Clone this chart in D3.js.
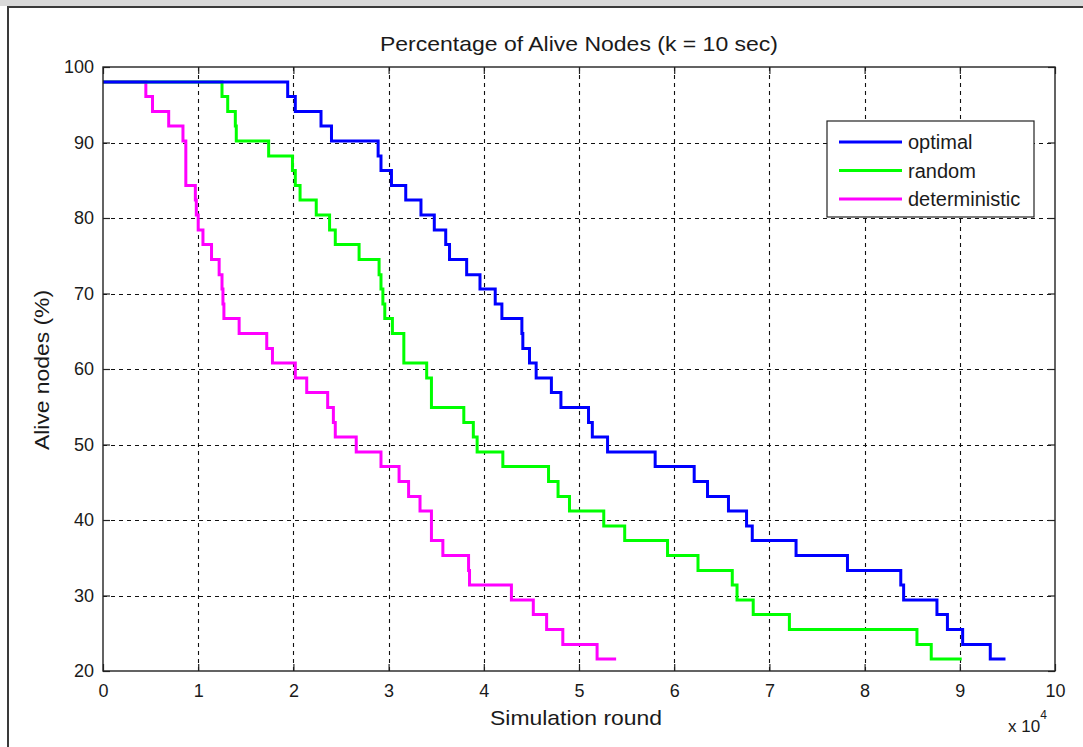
<!DOCTYPE html>
<html>
<head>
<meta charset="utf-8">
<script src="https://cdn.jsdelivr.net/npm/d3@7"></script>
<style>
  html, body { margin: 0; padding: 0; background: #ffffff; }
  svg { display: block; }
  text { font-family: "Liberation Sans", Arial, sans-serif; fill: #1a1a1a; }
</style>
</head>
<body>
<script>
// ---- data (x in units of 10^4 rounds, y = alive nodes %) ----
const xTicks = [0, 1, 2, 3, 4, 5, 6, 7, 8, 9, 10];
const yTicks = [20, 30, 40, 50, 60, 70, 80, 90, 100];
const seriesNames = ["optimal", "random", "deterministic"];

const optimalRounds = [0, 1.94, 2.02, 2.29, 2.40, 2.89, 2.92, 3.03, 3.18, 3.34, 3.48, 3.60, 3.64, 3.82, 3.96, 4.12, 4.19, 4.40, 4.41, 4.48, 4.55, 4.71, 4.81, 5.10, 5.14, 5.30, 5.80, 6.21, 6.35, 6.57, 6.76, 6.82, 7.28, 7.82, 8.38, 8.41, 8.76, 8.87, 9.03, 9.32, 9.48];
const optimalAlive  = [98.0, 96.1, 94.1, 92.2, 90.2, 88.2, 86.3, 84.3, 82.4, 80.4, 78.4, 76.5, 74.5, 72.5, 70.6, 68.6, 66.7, 64.7, 62.7, 60.8, 58.8, 56.9, 54.9, 52.9, 51.0, 49.0, 47.1, 45.1, 43.1, 41.2, 39.2, 37.3, 35.3, 33.3, 31.4, 29.4, 27.5, 25.5, 23.5, 21.6, 21.6];

const randomRounds = [0, 1.25, 1.31, 1.39, 1.40, 1.74, 1.99, 2.02, 2.07, 2.24, 2.38, 2.44, 2.69, 2.90, 2.92, 2.94, 2.96, 3.04, 3.16, 3.40, 3.45, 3.79, 3.89, 3.93, 4.20, 4.68, 4.78, 4.90, 5.26, 5.48, 5.93, 6.25, 6.61, 6.66, 6.83, 7.21, 8.55, 8.70, 9.02];
const randomAlive  = [98.0, 96.1, 94.1, 92.2, 90.2, 88.2, 86.3, 84.3, 82.4, 80.4, 78.4, 76.5, 74.5, 72.5, 70.6, 68.6, 66.7, 64.7, 60.8, 58.8, 54.9, 52.9, 51.0, 49.0, 47.1, 45.1, 43.1, 41.2, 39.2, 37.3, 35.3, 33.3, 31.4, 29.4, 27.5, 25.5, 23.5, 21.6, 21.6];

const deterministicRounds = [0, 0.45, 0.52, 0.69, 0.84, 0.87, 0.97, 0.98, 1.00, 1.05, 1.14, 1.22, 1.25, 1.26, 1.27, 1.43, 1.72, 1.78, 2.02, 2.14, 2.36, 2.42, 2.44, 2.66, 2.92, 3.11, 3.21, 3.33, 3.45, 3.57, 3.84, 3.85, 4.29, 4.52, 4.66, 4.83, 5.19, 5.39];
const deterministicAlive  = [98.0, 96.1, 94.1, 92.2, 90.2, 84.3, 82.4, 80.4, 78.4, 76.5, 74.5, 72.5, 70.6, 68.6, 66.7, 64.7, 62.7, 60.8, 58.8, 56.9, 54.9, 52.9, 51.0, 49.0, 47.1, 45.1, 43.1, 41.2, 37.3, 35.3, 33.3, 31.4, 29.4, 27.5, 25.5, 23.5, 21.6, 21.6];

const colors = ["#0000ff", "#00ff00", "#ff00ff"];

// ---- layout ----
const W = 1083, H = 747;
const M = { left: 103, right: 1055, top: 67, bottom: 671 };
const FONT = "'Liberation Sans', Arial, sans-serif";

const svg = d3.select("body").append("svg").attr("width", W).attr("height", H);

// figure frame
svg.append("rect").attr("x", 0).attr("y", 0).attr("width", W).attr("height", 6).attr("fill", "#d9d9d9");
svg.append("line").attr("x1", 7).attr("x2", W).attr("y1", 7).attr("y2", 7).attr("stroke", "#3a3a3a").attr("stroke-width", 2);
svg.append("line").attr("x1", 8).attr("x2", 8).attr("y1", 6).attr("y2", H).attr("stroke", "#3a3a3a").attr("stroke-width", 2);

const x = d3.scaleLinear().domain([0, 10]).range([M.left, M.right]);
const y = d3.scaleLinear().domain([20, 100]).range([M.bottom, M.top]);

// grid
const grid = svg.append("g").attr("stroke", "#111").attr("stroke-width", 1.1).attr("stroke-dasharray", "4,4");
grid.selectAll(".gx").data(xTicks.slice(1, -1)).join("line")
  .attr("x1", d => Math.round(x(d)) + 0.5).attr("x2", d => Math.round(x(d)) + 0.5)
  .attr("y1", M.top).attr("y2", M.bottom);
grid.selectAll(".gy").data(yTicks.slice(1, -1)).join("line")
  .attr("y1", d => Math.round(y(d)) + 0.5).attr("y2", d => Math.round(y(d)) + 0.5)
  .attr("x1", M.left).attr("x2", M.right);

// axes (MATLAB style: inward ticks on all sides)
const tickLen = 7;
const fmt = d3.format("d");
const axB = svg.append("g").attr("transform", `translate(0,${M.bottom})`)
  .call(d3.axisBottom(x).tickValues(xTicks).tickFormat(fmt).tickSizeInner(-tickLen).tickSizeOuter(0).tickPadding(13));
const axT = svg.append("g").attr("transform", `translate(0,${M.top})`)
  .call(d3.axisTop(x).tickValues(xTicks).tickFormat("").tickSizeInner(-tickLen).tickSizeOuter(0));
const axL = svg.append("g").attr("transform", `translate(${M.left},0)`)
  .call(d3.axisLeft(y).tickValues(yTicks).tickFormat(fmt).tickSizeInner(-tickLen).tickSizeOuter(0).tickPadding(9));
const axR = svg.append("g").attr("transform", `translate(${M.right},0)`)
  .call(d3.axisRight(y).tickValues(yTicks).tickFormat("").tickSizeInner(-tickLen).tickSizeOuter(0));
[axB, axT, axL, axR].forEach(a => {
  a.select(".domain").remove();
  a.selectAll(".tick line").attr("stroke", "#222").attr("stroke-width", 1.2);
  a.selectAll("text").attr("font-size", 18).attr("fill", "#1a1a1a").attr("font-family", FONT);
});

// series (optimal drawn last, on top)
const line = d3.line().x(d => x(d[0])).y(d => y(d[1])).curve(d3.curveStepAfter);
const series = [
  d3.zip(optimalRounds, optimalAlive),
  d3.zip(randomRounds, randomAlive),
  d3.zip(deterministicRounds, deterministicAlive)
];
const plot = svg.append("g");
[2, 1, 0].forEach(i => {
  plot.append("path").datum(series[i]).attr("d", line)
    .attr("fill", "none").attr("stroke", colors[i]).attr("stroke-width", 3)
    .attr("stroke-linejoin", "miter").attr("stroke-linecap", "butt");
});

// axes box
svg.append("rect").attr("x", M.left).attr("y", M.top)
  .attr("width", M.right - M.left).attr("height", M.bottom - M.top)
  .attr("fill", "none").attr("stroke", "#222").attr("stroke-width", 1.4);

// title and labels
svg.append("text").attr("x", (M.left + M.right) / 2).attr("y", 51)
  .attr("text-anchor", "middle").attr("font-size", 21)
  .attr("textLength", 398).attr("lengthAdjust", "spacingAndGlyphs")
  .text("Percentage of Alive Nodes (k = 10 sec)");
svg.append("text").attr("x", 576).attr("y", 725)
  .attr("text-anchor", "middle").attr("font-size", 21)
  .attr("textLength", 172).attr("lengthAdjust", "spacingAndGlyphs")
  .text("Simulation round");
svg.append("text").attr("transform", "translate(49,370) rotate(-90)")
  .attr("text-anchor", "middle").attr("font-size", 21)
  .attr("textLength", 160).attr("lengthAdjust", "spacingAndGlyphs")
  .text("Alive nodes (%)");
const mult = svg.append("text").attr("x", 1008).attr("y", 732).attr("font-size", 17);
mult.append("tspan").text("x 10");
mult.append("tspan").attr("dy", -13).attr("font-size", 12).text("4");

// legend
const lg = svg.append("g").attr("transform", "translate(827,121)");
lg.append("rect").attr("width", 207).attr("height", 96).attr("fill", "#fff").attr("stroke", "#222").attr("stroke-width", 1.2);
seriesNames.forEach((n, i) => {
  const yy = 21 + i * 28.5;
  lg.append("line").attr("x1", 12).attr("x2", 75).attr("y1", yy).attr("y2", yy)
    .attr("stroke", colors[i]).attr("stroke-width", 3);
  lg.append("text").attr("x", 81).attr("y", yy + 7).attr("font-size", 20).text(n);
});
</script>
</body>
</html>
